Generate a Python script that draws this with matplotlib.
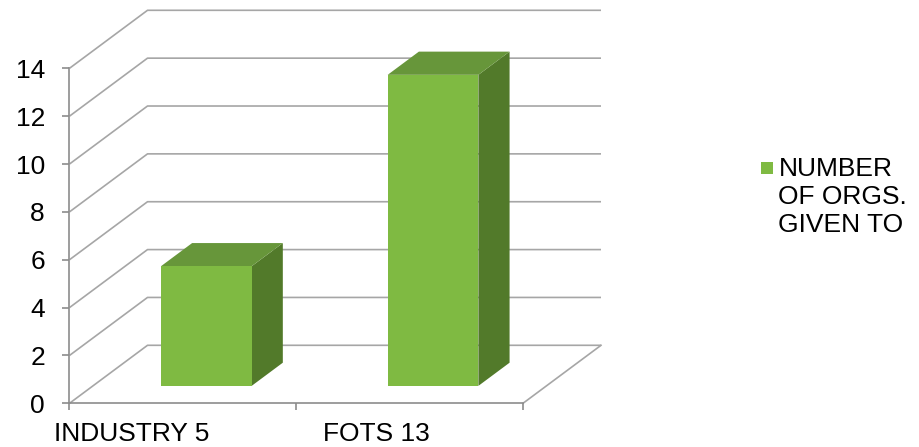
import matplotlib
matplotlib.use("Agg")
import matplotlib.pyplot as plt
from matplotlib.patches import Polygon, Rectangle

# Chart data
categories = ["INDUSTRY 5", "FOTS 13"]
values = [5, 13]
series_name = "NUMBER\nOF ORGS.\nGIVEN TO"
y_ticks = [0, 2, 4, 6, 8, 10, 12, 14]

# Styling
FRONT = "#7FBA42"
TOP = "#67963A"
SIDE = "#527A2A"
GRID = "#A6A6A6"
AXIS = "#8C8C8C"
FS = 19

plt.rcParams['font.family'] = ['Liberation Sans', 'DejaVu Sans']

W, H = 920, 447
fig = plt.figure(figsize=(W / 100, H / 100), dpi=100)

# front plane of the plot box, in pixels
x0, y0, x1, y1 = 69.5, 403.3, 523.0, 68.3
ax = fig.add_axes([x0 / W, 1 - y0 / H, (x1 - x0) / W, (y0 - y1) / H])
n = len(categories)
ax.set_xlim(0, n)
ax.set_ylim(y_ticks[0], y_ticks[-1])

# oblique depth offset of the back wall, in data units
px_per_x = (x1 - x0) / n
px_per_y = (y0 - y1) / (y_ticks[-1] - y_ticks[0])
DX = 78 / px_per_x
DY = 58 / px_per_y

# side wall + back wall gridlines
for v in y_ticks:
    ax.plot([0, DX, n + DX], [v, v + DY, v + DY], color=GRID, lw=1.2,
            clip_on=False, zorder=1, solid_capstyle='butt')
# right edge of the floor
ax.plot([n, n + DX], [0, DY], color=GRID, lw=1.2, clip_on=False, zorder=1)

# 3-D columns: front face, top face, right side
d0, d1 = 0.3, 0.7       # depth span of a column
w0, w1 = 0.3, 0.7       # width span inside a category slot
for i, v in enumerate(values):
    l, r = i + w0, i + w1
    fx0, fy0 = d0 * DX, d0 * DY
    fx1, fy1 = d1 * DX, d1 * DY
    front = [(l + fx0, fy0), (r + fx0, fy0), (r + fx0, v + fy0), (l + fx0, v + fy0)]
    top = [(l + fx0, v + fy0), (r + fx0, v + fy0), (r + fx1, v + fy1), (l + fx1, v + fy1)]
    side = [(r + fx0, fy0), (r + fx1, fy1), (r + fx1, v + fy1), (r + fx0, v + fy0)]
    for pts, c in ((side, SIDE), (top, TOP), (front, FRONT)):
        ax.add_patch(Polygon(pts, closed=True, facecolor=c, edgecolor='none',
                             clip_on=False, zorder=3))

# axes
for s in ("top", "right"):
    ax.spines[s].set_visible(False)
for s in ("left", "bottom"):
    ax.spines[s].set_color(AXIS)
    ax.spines[s].set_linewidth(1.2)
    ax.spines[s].set_zorder(2)
ax.set_yticks(y_ticks)
ax.set_yticklabels([str(t) for t in y_ticks])
ax.set_xticks(range(n + 1))
ax.set_xticklabels([])
ax.tick_params(axis='both', direction='out', length=5.2, width=1.2, color=AXIS,
               labelsize=FS, labelcolor='black')
ax.tick_params(axis='y', pad=12.5)
ax.patch.set_alpha(0)

# category labels under the floor
label_pos = [0.273, 1.354]
for p, name in zip(label_pos, categories):
    ax.text(p, -(441 - y0) / (y0 - y1), name, transform=ax.get_xaxis_transform(),
            ha='center', va='baseline', fontsize=FS, color='black', clip_on=False)

# legend entry
fig.patches.append(Rectangle((760.7 / W, 1 - 174 / H), 12.6 / W, 12.3 / H,
                             transform=fig.transFigure, facecolor=FRONT,
                             edgecolor='none'))
fig.text(778.5 / W, 1 - 157 / H, series_name, ha='left', va='top',
         multialignment='left', fontsize=FS, color='black', linespacing=1.2)

fig.savefig("out.png", dpi=100)
